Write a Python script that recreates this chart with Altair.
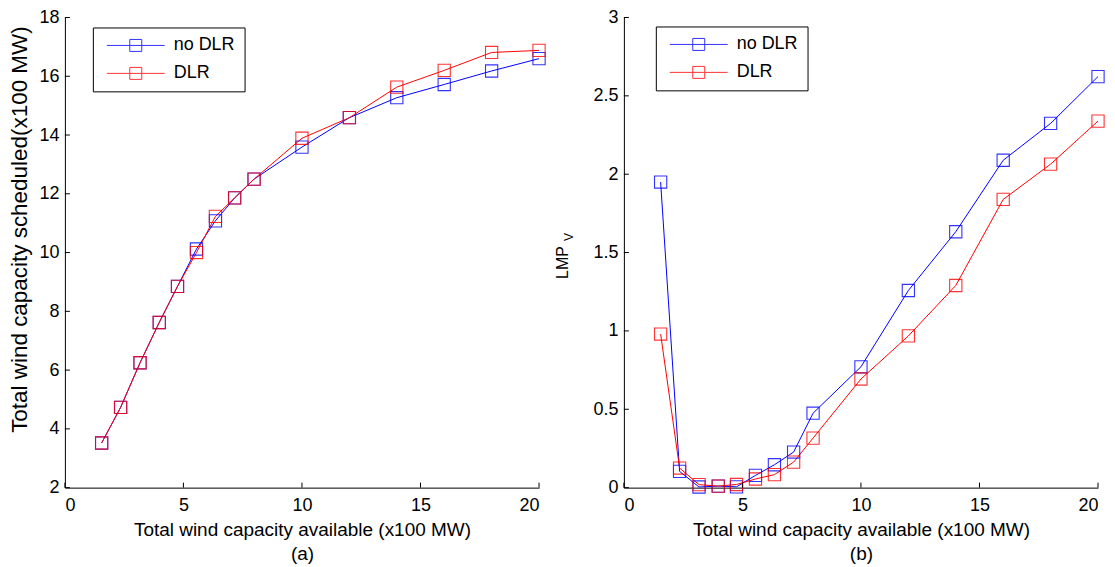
import altair as alt
import pandas as pd

# ---------------- data ----------------
x_avail = [1.55, 2.35, 3.17, 3.98, 4.75, 5.55, 6.35, 7.16, 7.98, 10, 12, 14, 16, 18, 20]
sched_nodlr = [3.52, 4.73, 6.25, 7.62, 8.85, 10.12, 11.08, 11.86, 12.5, 13.59, 14.59, 15.27, 15.72, 16.18, 16.6]
sched_dlr = [3.52, 4.73, 6.25, 7.62, 8.85, 10.0, 11.23, 11.86, 12.5, 13.89, 14.59, 15.63, 16.2, 16.81, 16.88]
lmp_nodlr = [1.95, 0.104, 0.004, 0.01, 0.005, 0.078, 0.146, 0.227, 0.475, 0.771, 1.258, 1.633, 2.089, 2.324, 2.623]
lmp_dlr = [0.98, 0.125, 0.019, 0.01, 0.02, 0.055, 0.083, 0.163, 0.316, 0.693, 0.968, 1.29, 1.839, 2.064, 2.339]

series = ["no DLR", "DLR"]
colors = ["#0000ff", "#ff0000"]
x_ticks = [0, 5, 10, 15, 20]
ya_ticks = [2, 4, 6, 8, 10, 12, 14, 16, 18]
yb_ticks = [0, 0.5, 1, 1.5, 2, 2.5, 3]

FONT = "Liberation Sans"
W, H = 475, 471


def make_df(a, b):
    n = len(x_avail)
    return pd.DataFrame({
        "x": x_avail + x_avail,
        "y": a + b,
        "s": [series[0]] * n + [series[1]] * n,
        "o": list(range(n)) * 2,
    })


LEG_PATH = "M-4.83,0H4.83M-1,-1H1V1H-1Z"


def panel(df, ydom, yticks, ytitle, yfmt, tag, ytitle_kw, legxy):
    color = alt.Color(
        "s:N",
        scale=alt.Scale(domain=series, range=colors),
        legend=alt.Legend(
            title=None, orient="none", legendX=legxy[0], legendY=legxy[1],
            direction="vertical", fillColor="white", strokeColor="black",
            padding=9, cornerRadius=0, symbolType=LEG_PATH, symbolSize=144,
            symbolStrokeWidth=1, symbolFillColor="transparent",
            symbolOffset=25, labelOffset=29, rowPadding=10,
            labelFont=FONT, labelFontSize=18, labelColor="black",
        ),
    )
    xenc = alt.X("x:Q", scale=alt.Scale(domain=[0, 20], nice=False),
                 axis=alt.Axis(values=x_ticks, title=["Total wind capacity available (x100 MW)", tag],
                               format="d"))
    yenc = alt.Y("y:Q", scale=alt.Scale(domain=ydom, nice=False, zero=False),
                 axis=alt.Axis(values=yticks, format=yfmt, title=ytitle, **ytitle_kw))
    base = alt.Chart(df)
    line = base.mark_line(strokeWidth=1, clip=True).encode(
        x=xenc, y=yenc, color=color, order="o:Q")
    pts = base.mark_point(shape="square", size=150, filled=False, strokeWidth=1.1, opacity=0.8).encode(
        x=xenc, y=yenc, color=color)

    xt = alt.Chart(pd.DataFrame({"t": x_ticks})).mark_rule(color="black", strokeWidth=1).encode(
        x=alt.X("t:Q"), y=alt.value(H), y2=alt.value(H - 5))
    yt = alt.Chart(pd.DataFrame({"t": yticks})).mark_rule(color="black", strokeWidth=1).encode(
        y=alt.Y("t:Q"), x=alt.value(0), x2=alt.value(5))
    return alt.layer(line, pts, xt, yt).properties(width=W, height=H)


left = panel(make_df(sched_nodlr, sched_dlr), [2, 18], ya_ticks,
             "Total wind capacity scheduled(x100 MW)", "d", "(a)",
             dict(titleFontSize=22.5, titleY=212, titleX=-38, titleBaseline="alphabetic"), (28, 10))

right_base = panel(make_df(lmp_nodlr, lmp_dlr), [0, 3], yb_ticks,
                   "LMP", "", "(b)",
                   dict(titleFontSize=16, titleY=245, titleX=-56, titleBaseline="alphabetic"), (32, 9))

sub = alt.Chart(pd.DataFrame({"t": ["V"]})).mark_text(
    font=FONT, fontSize=12, angle=270, align="center", baseline="middle", color="black"
).encode(text="t:N", x=alt.value(-55), y=alt.value(220))

right = alt.layer(right_base, sub)

chart = alt.hconcat(left, right, spacing=7).resolve_scale(color="independent").resolve_legend(
    color="independent"
).properties(
    padding={"left": 0, "top": 0, "right": 0, "bottom": 0}, background="white"
).configure_view(
    stroke=None
).configure_axis(
    labelFont=FONT, titleFont=FONT, labelFontSize=18, titleFontSize=19,
    labelColor="black", titleColor="black", titleFontWeight="normal",
    domainColor="black", domainWidth=1, ticks=False, grid=False,
    labelPadding=6, titlePadding=8,
).configure_axisX(
    labelPadding=9, titleLineHeight=24, titlePadding=6,
)

chart.save("out.html", embed_options={"renderer": "svg", "actions": False})
